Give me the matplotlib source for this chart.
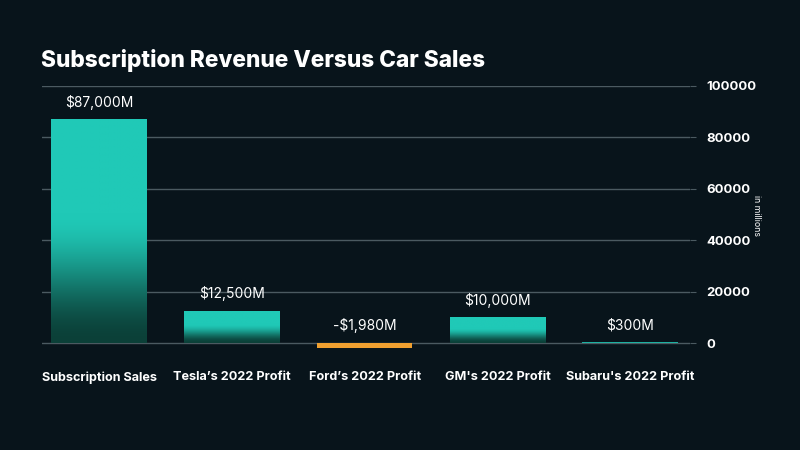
import numpy as np
from matplotlib import pyplot as plt
from matplotlib import colors as mcolors

categories = ['Subscription Sales', "Tesla’s 2022 Profit", "Ford’s 2022 Profit",
              "GM's 2022 Profit", "Subaru's 2022 Profit"]
values = [87000, 12500, -1980, 10000, 300]
labels = ['$87,000M', '$12,500M', '-$1,980M', '$10,000M', '$300M']
yticks = [0, 20000, 40000, 60000, 80000, 100000]

bg = '#08141b'
teal = '#20c9b7'
dark = '#0b4038'
orange = '#f0a030'
grid_c = '#4b5a61'

plt.rcParams['font.family'] = ['Inter', 'DejaVu Sans']

fig = plt.figure(figsize=(8, 4.5), dpi=100)
fig.set_facecolor(bg)
ax = fig.add_axes([42/800, 1-356/450, (690-42)/800, (356-86)/450])
ax.set_facecolor(bg)

x = np.arange(len(categories))
w = 0.72
ax.set_xlim(-0.43, 4.45)
ax.set_ylim(-5000, 100000)

for yt in yticks:
    ax.axhline(yt, color=grid_c, lw=1, zorder=0)

# gradient for the teal bars: solid on top, fades dark toward baseline
c1 = np.array(mcolors.to_rgb(teal))
c0 = np.array(mcolors.to_rgb(dark))
t = np.linspace(0, 1, 256)
s = np.clip(t / 0.58, 0, 1)
f = s * s * (3 - 2 * s)
grad = (c0[None, :] * (1 - f[:, None]) + c1[None, :] * f[:, None])[:, None, :]

for xi, v in zip(x, values):
    if v < 0:
        ax.bar(xi, v, width=w, color=orange, zorder=2)
    else:
        b = ax.bar(xi, v, width=w, color=teal, zorder=2)[0]
        im = ax.imshow(grad, extent=(xi - w/2, xi + w/2, 0, v), origin='lower',
                       aspect='auto', zorder=2.5, interpolation='bilinear')
        im.set_clip_path(b)

for xi, v, lab in zip(x, values, labels):
    ax.annotate(lab, (xi, max(v, 0)), xytext=(0, 7), textcoords='offset points',
                ha='center', va='bottom', color='white', fontsize=10)

ax.set_xticks(x)
ax.set_xticklabels(categories, color='white', fontsize=9.1, fontweight='bold')
ax.tick_params(axis='x', length=0, pad=11)

ax.yaxis.tick_right()
ax.set_yticks(yticks)
ax.set_yticklabels([str(v) for v in yticks], color='white', fontsize=9.5, fontweight='bold')
ax.tick_params(axis='y', length=4, color=grid_c, pad=8)

for sp in ax.spines.values():
    sp.set_visible(False)

fig.text(757/800, 1-215/450, 'in millions', rotation=-90, color='white',
         fontsize=6.3, ha='center', va='center')
fig.text(41/800, 1-61/450, 'Subscription Revenue Versus Car Sales', color='white',
         fontsize=16.3, fontweight='heavy', ha='left', va='center')

fig.savefig('out.png', dpi=100, facecolor=bg)
